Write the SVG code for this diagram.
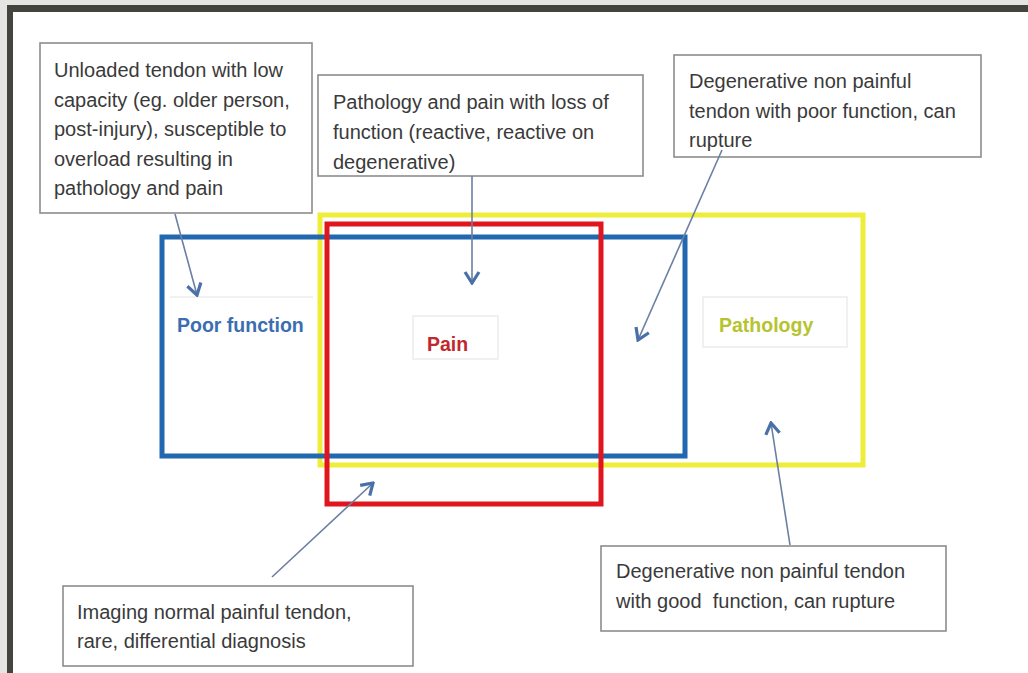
<svg xmlns="http://www.w3.org/2000/svg" width="1028" height="673" viewBox="0 0 1028 673">
  <style>
    .box { fill: #ffffff; stroke: #8c8c8c; stroke-width: 1.6; }
    .txt { font-family: "Liberation Sans", Arial, sans-serif; font-size: 20px; fill: #3a3a3a; white-space: pre; }
    .lbl { font-family: "Liberation Sans", Arial, sans-serif; font-size: 19.5px; font-weight: bold; }
    .faint { fill: none; stroke: #ececec; stroke-width: 1.5; }
    .conn { stroke: #6b7fa3; stroke-width: 1.6; fill: none; marker-end: url(#chev); }
    .set { fill: none; stroke-width: 5; }
  </style>
  <defs>
    <marker id="chev" viewBox="-14 -9 16 18" refX="0" refY="0" markerWidth="16" markerHeight="18" markerUnits="userSpaceOnUse" orient="auto">
      <path d="M-11,-7 L0,0 L-11,7" fill="none" stroke="#4a70a8" stroke-width="3.2" stroke-linejoin="miter"/>
    </marker>
  </defs>

  <!-- frame -->
  <rect x="0" y="0" width="1028" height="673" fill="#e5e5e3"/>
  <rect x="7" y="5" width="1021" height="668" fill="#44443e"/>
  <rect x="13" y="12" width="1015" height="661" fill="#ffffff"/>

  <!-- sets -->
  <g id="pathology-set">
    <rect class="set" x="320" y="215" width="543" height="250" stroke="#eded3a" stroke-width="6"/>
  </g>
  <g id="function-set">
    <rect class="set" x="162" y="237" width="523" height="219" stroke="#2168b0"/>
  </g>
  <g id="pain-set">
    <rect class="set" x="327" y="224" width="274" height="280" stroke="#e0161e"/>
  </g>

  <!-- set labels -->
  <g id="label-poor-function">
    <line class="faint" x1="170" y1="297" x2="313" y2="297"/>
    <text class="lbl" x="177" y="332" fill="#3b6eb0">Poor function</text>
  </g>
  <g id="label-pain">
    <rect class="faint" x="413" y="316" width="85" height="43"/>
    <text class="lbl" x="427" y="351" fill="#c1272d">Pain</text>
  </g>
  <g id="label-pathology">
    <rect class="faint" x="703" y="297" width="144" height="50"/>
    <text class="lbl" x="719" y="332" fill="#b6c330">Pathology</text>
  </g>

  <!-- annotation boxes -->
  <g id="note-unloaded">
    <rect class="box" x="40" y="43" width="272" height="170"/>
    <text class="txt" x="54" y="77">Unloaded tendon with low</text>
    <text class="txt" x="54" y="106.5">capacity (eg. older person,</text>
    <text class="txt" x="54" y="136">post-injury), susceptible to</text>
    <text class="txt" x="54" y="165.5">overload resulting in</text>
    <text class="txt" x="54" y="195">pathology and pain</text>
  </g>
  <g id="note-reactive">
    <rect class="box" x="318" y="75" width="325" height="101"/>
    <text class="txt" x="333" y="109">Pathology and pain with loss of</text>
    <text class="txt" x="333" y="139">function (reactive, reactive on</text>
    <text class="txt" x="333" y="169">degenerative)</text>
  </g>
  <g id="note-degenerative-poor">
    <rect class="box" x="674" y="55" width="307" height="102"/>
    <text class="txt" x="689" y="88">Degenerative non painful</text>
    <text class="txt" x="689" y="118">tendon with poor function, can</text>
    <text class="txt" x="689" y="147">rupture</text>
  </g>
  <g id="note-imaging-normal">
    <rect class="box" x="63" y="586" width="350" height="80"/>
    <text class="txt" x="77" y="619">Imaging normal painful tendon,</text>
    <text class="txt" x="77" y="648">rare, differential diagnosis</text>
  </g>
  <g id="note-degenerative-good">
    <rect class="box" x="601" y="546" width="345" height="85"/>
    <text class="txt" x="616" y="578">Degenerative non painful tendon</text>
    <text class="txt" x="616" y="608">with good  function, can rupture</text>
  </g>

  <!-- connectors -->
  <g id="connectors">
    <line class="conn" x1="175" y1="214" x2="197" y2="295"/>
    <line class="conn" x1="472" y1="176" x2="472" y2="283"/>
    <line class="conn" x1="722" y1="150" x2="638" y2="340"/>
    <line class="conn" x1="272" y1="577" x2="373" y2="483"/>
    <line class="conn" x1="790" y1="545" x2="771" y2="423"/>
  </g>
</svg>
